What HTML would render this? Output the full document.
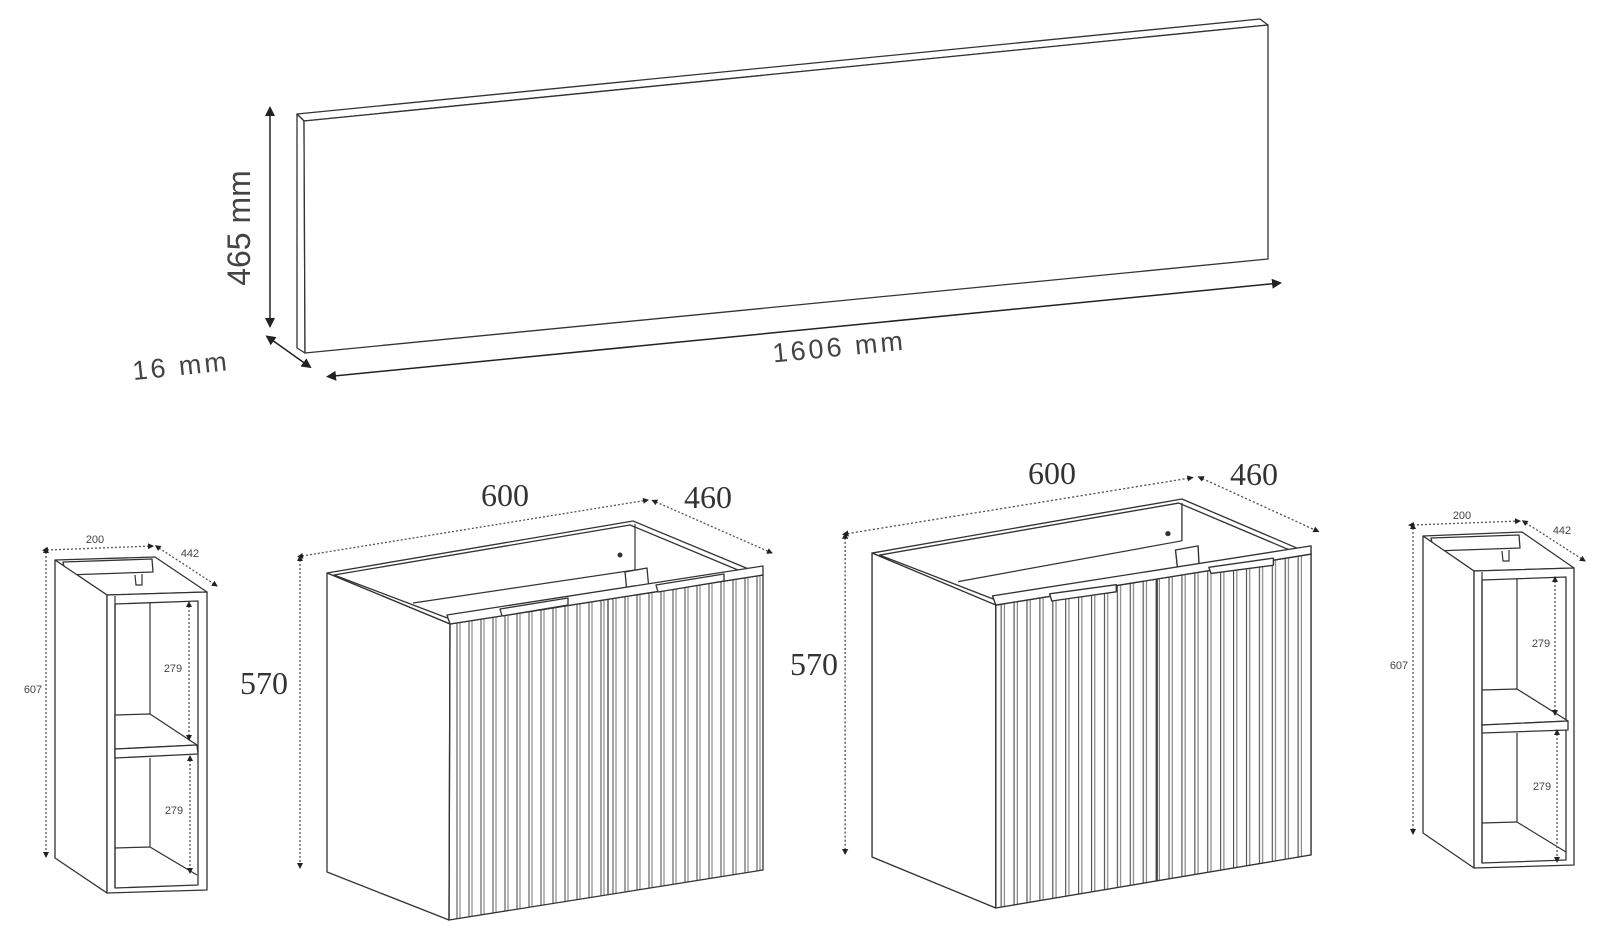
<!DOCTYPE html>
<html><head><meta charset="utf-8"><style>
html,body{margin:0;padding:0;background:#fff;}
svg{display:block;}
.s{fill:#fff;stroke:#333;stroke-width:1.3;stroke-linejoin:round}
.l{stroke:#333;stroke-width:1.2;fill:none}
.d{stroke:#555;stroke-width:1.3;stroke-dasharray:2 2;fill:none}
.g{font-family:"Liberation Sans",sans-serif;fill:#444}
.t{font-family:"Liberation Serif",serif;fill:#333;font-size:32px}
.m{font-family:"Liberation Sans",sans-serif;fill:#444;font-size:11px}
</style></head><body>
<svg width="1604" height="943" viewBox="0 0 1604 943" xmlns="http://www.w3.org/2000/svg">
<defs>
<pattern id="fl" patternUnits="userSpaceOnUse" width="12" height="20" x="0" y="0">
<line x1="1" y1="0" x2="1" y2="20" stroke="#444" stroke-width="1"/>
<line x1="4" y1="0" x2="4" y2="20" stroke="#777" stroke-width="1"/>
</pattern>
<marker id="ah" markerWidth="10" markerHeight="10" refX="8" refY="5" orient="auto" markerUnits="userSpaceOnUse"><path d="M0,0 L10,5 L0,10z" fill="#222"/></marker>
<marker id="as" markerWidth="6" markerHeight="6" refX="5" refY="3" orient="auto" markerUnits="userSpaceOnUse"><path d="M0,0 L6,3 L0,6z" fill="#222"/></marker>
<marker id="ahs" markerWidth="10" markerHeight="10" refX="2" refY="5" orient="auto-start-reverse" markerUnits="userSpaceOnUse"><path d="M0,0 L10,5 L0,10z" fill="#222"/></marker>
<marker id="ass" markerWidth="6" markerHeight="6" refX="1" refY="3" orient="auto-start-reverse" markerUnits="userSpaceOnUse"><path d="M0,0 L6,3 L0,6z" fill="#222"/></marker>
</defs>

<!-- PANEL -->
<polygon class="s" points="297,114 1260,19 1268,25 304,121"/>
<polygon class="s" points="297,114 304,121 305,353 297,348"/>
<polygon class="s" points="304,121 1268,25 1268,259 305,353"/>
<line x1="270" y1="114" x2="270" y2="326" stroke="#222" stroke-width="1.5" marker-start="url(#ahs)" marker-end="url(#ah)"/>
<text class="g" font-size="32" transform="translate(250,228) rotate(-90)" text-anchor="middle">465 mm</text>
<line x1="272" y1="340" x2="310" y2="367" stroke="#222" stroke-width="1.5" marker-start="url(#ahs)" marker-end="url(#ah)"/>
<text class="g" font-size="27" transform="translate(182,375) rotate(-6)" text-anchor="middle" letter-spacing="3">16 mm</text>
<line x1="334" y1="376" x2="1280" y2="283" stroke="#222" stroke-width="1.5" marker-start="url(#ahs)" marker-end="url(#ah)"/>
<text class="g" font-size="27" transform="translate(840,356) rotate(-5.6)" text-anchor="middle" letter-spacing="3">1606 mm</text>

<!-- LEFT BIG CABINET -->
<polygon class="s" points="327,573 633,521 763,575 450,624"/>
<polygon class="s" points="334,575 630,525 750,575 450,619"/>
<polyline class="l" points="413,603 635,570 635,524"/>
<circle cx="620" cy="555" r="2.5" fill="#333"/>
<polygon class="s" points="625,572 647,568 649,590 627,592"/>
<polygon class="s" points="327,573 450,624 449,920 327,872"/>
<polygon points="450,624 763,575 763,870 449,920" fill="url(#fl)" stroke="#333" stroke-width="1.3"/>
<polygon class="s" points="447,615 763,566 763,575 450,624"/>
<line class="l" x1="608" y1="599" x2="608" y2="895" stroke-width="2"/>
<polygon class="s" points="500,609 568,598 568,605 502,616"/>
<polygon class="s" points="656,585 724,574 724,581 658,592"/>
<line class="d" x1="302" y1="556" x2="648" y2="500" marker-start="url(#ass)" marker-end="url(#as)"/>
<line class="d" x1="656" y1="502" x2="772" y2="553" marker-start="url(#ass)" marker-end="url(#as)"/>
<line class="d" x1="300" y1="560" x2="300" y2="868" marker-start="url(#ass)" marker-end="url(#as)"/>
<text class="t" x="505" y="506" text-anchor="middle">600</text>
<text class="t" x="708" y="508" text-anchor="middle">460</text>
<text class="t" x="264" y="694" text-anchor="middle">570</text>

<!-- RIGHT BIG CABINET -->
<g transform="matrix(1.076,0,0,1.02,-58.7,-10)">
<polygon class="s" points="865,552 1153,499 1273,553 980,603"/>
<polygon class="s" points="872,554 1150,503 1262,553 980,598"/>
<polyline class="l" points="945,580 1153,540 1153,503"/>
<circle cx="1140" cy="533" r="2.5" fill="#333"/>
<polygon class="s" points="1147,549 1168,545 1169,566 1149,568"/>
<polygon class="s" points="865,552 980,603 980,900 865,850"/>
<polygon points="980,603 1273,553 1273,848 980,900" fill="url(#fl)" stroke="#333" stroke-width="1.3"/>
<polygon class="s" points="977,594 1273,545 1273,553 980,603"/>
<line class="l" x1="1130" y1="578" x2="1130" y2="874" stroke-width="2"/>
<polygon class="s" points="1030,592 1092,583 1092,590 1032,599"/>
<polygon class="s" points="1178,566 1238,557 1238,564 1180,572"/>
<line class="d" x1="842" y1="533" x2="1163" y2="478" marker-start="url(#ass)" marker-end="url(#as)"/>
<line class="d" x1="1172" y1="479" x2="1280" y2="531" marker-start="url(#ass)" marker-end="url(#as)"/>
<line class="d" x1="840" y1="537" x2="840" y2="847" marker-start="url(#ass)" marker-end="url(#as)"/>
</g>
<text class="t" x="1052" y="484" text-anchor="middle">600</text>
<text class="t" x="1254" y="485" text-anchor="middle">460</text>
<text class="t" x="814" y="675" text-anchor="middle">570</text>

<!-- LEFT SMALL CABINET -->
<polygon class="s" points="55,560 155,557 207,592 107,595"/>
<polygon class="s" points="63,562 152,559 153,572 66,575"/>
<polyline class="l" points="135,575 136,585 142,585 142,574"/>
<polygon class="s" points="55,560 107,595 107,893 55,858"/>
<polygon class="s" points="107,595 207,592 207,890 107,893"/>
<polygon class="s" points="115,604 198,601 198,885 115,888"/>
<line class="l" x1="115" y1="596" x2="115" y2="888"/>
<polyline class="l" points="150,603 150,714"/>
<polygon class="s" points="115,715 150,714 197,745 115,749"/>
<polygon class="s" points="115,749 197,745 198,754 115,758"/>
<polyline class="l" points="150,758 150,847 197,875"/>
<line class="l" x1="115" y1="848" x2="150" y2="847"/>
<line class="d" x1="47" y1="550" x2="153" y2="546" marker-start="url(#ass)" marker-end="url(#as)"/>
<line class="d" x1="159" y1="548" x2="217" y2="586" marker-start="url(#ass)" marker-end="url(#as)"/>
<line class="d" x1="46" y1="552" x2="46" y2="857" marker-start="url(#ass)" marker-end="url(#as)"/>
<line class="d" x1="189" y1="606" x2="189" y2="740" marker-start="url(#ass)" marker-end="url(#as)"/>
<line class="d" x1="190" y1="760" x2="190" y2="873" marker-start="url(#ass)" marker-end="url(#as)"/>
<text class="m" x="95" y="543" text-anchor="middle">200</text>
<text class="m" x="190" y="557" text-anchor="middle">442</text>
<text class="m" x="33" y="693" text-anchor="middle">607</text>
<text class="m" x="173" y="672" text-anchor="middle">279</text>
<text class="m" x="174" y="814" text-anchor="middle">279</text>

<!-- RIGHT SMALL CABINET -->
<polygon class="s" points="1423,536 1522,532 1574,568 1474,571"/>
<polygon class="s" points="1431,538 1519,535 1520,548 1434,551"/>
<polyline class="l" points="1502,551 1503,561 1509,561 1509,550"/>
<polygon class="s" points="1423,536 1474,571 1474,868 1423,833"/>
<polygon class="s" points="1474,571 1574,568 1574,865 1474,868"/>
<polygon class="s" points="1482,580 1566,577 1566,860 1482,863"/>
<line class="l" x1="1482" y1="572" x2="1482" y2="863"/>
<polyline class="l" points="1517,578 1517,689"/>
<polygon class="s" points="1482,690 1517,689 1568,721 1482,725"/>
<polygon class="s" points="1482,725 1568,721 1568,730 1482,733"/>
<polyline class="l" points="1517,733 1517,822 1566,852"/>
<line class="l" x1="1482" y1="823" x2="1517" y2="822"/>
<line class="d" x1="1413" y1="525" x2="1520" y2="521" marker-start="url(#ass)" marker-end="url(#as)"/>
<line class="d" x1="1526" y1="523" x2="1585" y2="561" marker-start="url(#ass)" marker-end="url(#as)"/>
<line class="d" x1="1413" y1="528" x2="1413" y2="834" marker-start="url(#ass)" marker-end="url(#as)"/>
<line class="d" x1="1555" y1="581" x2="1555" y2="715" marker-start="url(#ass)" marker-end="url(#as)"/>
<line class="d" x1="1557" y1="734" x2="1557" y2="862" marker-start="url(#ass)" marker-end="url(#as)"/>
<text class="m" x="1462" y="519" text-anchor="middle">200</text>
<text class="m" x="1562" y="534" text-anchor="middle">442</text>
<text class="m" x="1399" y="669" text-anchor="middle">607</text>
<text class="m" x="1541" y="647" text-anchor="middle">279</text>
<text class="m" x="1542" y="790" text-anchor="middle">279</text>
</svg>
</body></html>
